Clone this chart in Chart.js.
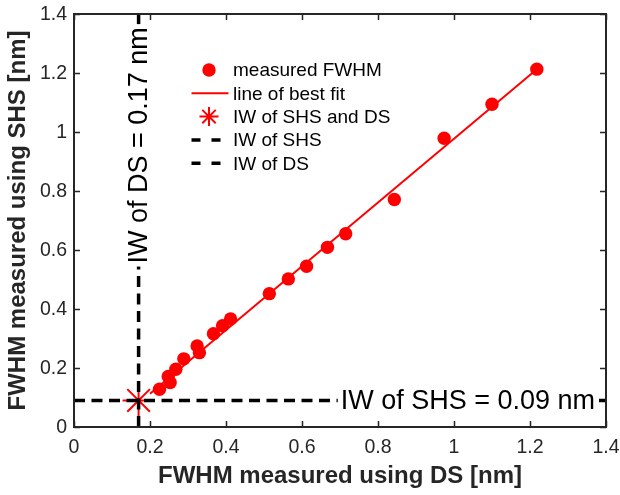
<!DOCTYPE html>
<html>
<head>
<meta charset="utf-8">
<script src="https://cdn.jsdelivr.net/npm/chart.js@4.4.1/dist/chart.umd.min.js"></script>
<style>
  html, body { margin: 0; padding: 0; background: #fff; }
</style>
</head>
<body>
<canvas id="graficoFWHM" width="620" height="495"></canvas>
<script>
// measured FWHM, DS (x) vs SHS (y), in nm
const fwhmDS = [0.225, 0.248, 0.253, 0.268, 0.289, 0.324, 0.330, 0.367, 0.391, 0.412, 0.514, 0.564, 0.612, 0.667, 0.715, 0.843, 0.974, 1.100, 1.218];
const fwhmSHS = [0.128, 0.171, 0.151, 0.196, 0.231, 0.275, 0.252, 0.316, 0.343, 0.366, 0.452, 0.502, 0.545, 0.609, 0.655, 0.771, 0.979, 1.094, 1.213];
// line of best fit end points
const fitDS = [0.2, 1.218];
const fitSHS = [0.113, 1.213];
// instrument widths
const iwDS = 0.17;
const iwSHS = 0.09;
const axisRange = [0, 1.4];
const axisTicks = [0, 0.2, 0.4, 0.6, 0.8, 1, 1.2, 1.4];

const FONT = "'Liberation Sans', Arial, Helvetica, sans-serif";
const AXIS_COLOR = "#262626";
const RED = "#ff0000";

function textoConFondo(ctx, texto, x, y, rotado) {
  ctx.save();
  ctx.font = `27px ${FONT}`;
  ctx.textAlign = "left";
  ctx.textBaseline = "middle";
  ctx.translate(x, y);
  if (rotado) ctx.rotate(-Math.PI / 2);
  const ancho = ctx.measureText(texto).width;
  ctx.fillStyle = "#fff";
  ctx.fillRect(-3, -15, ancho + 6, 30);
  ctx.fillStyle = "#000";
  ctx.fillText(texto, 0, 1);
  ctx.restore();
}

const marcoMatlab = {
  id: "marcoMatlab",
  afterDatasetsDraw(chart) {
    const { ctx, chartArea: a, scales: { x, y } } = chart;

    // annotations with white background
    textoConFondo(ctx, `IW of DS = ${iwDS} nm`, x.getPixelForValue(iwDS), y.getPixelForValue(0.554), true);
    textoConFondo(ctx, `IW of SHS = ${iwSHS} nm`, x.getPixelForValue(0.702), y.getPixelForValue(iwSHS), false);

    // box, inner ticks and tick labels
    ctx.save();
    ctx.strokeStyle = AXIS_COLOR;
    ctx.lineWidth = 1.5;
    ctx.beginPath();
    axisTicks.forEach((v) => {
      const px = Math.round(x.getPixelForValue(v)) + 0.5;
      ctx.moveTo(px, a.bottom); ctx.lineTo(px, a.bottom - 6);
      ctx.moveTo(px, a.top); ctx.lineTo(px, a.top + 6);
      const py = Math.round(y.getPixelForValue(v)) + 0.5;
      ctx.moveTo(a.left, py); ctx.lineTo(a.left + 6, py);
      ctx.moveTo(a.right, py); ctx.lineTo(a.right - 6, py);
    });
    ctx.stroke();
    ctx.lineWidth = 2;
    ctx.strokeRect(a.left, a.top, a.right - a.left, a.bottom - a.top);

    ctx.fillStyle = AXIS_COLOR;
    ctx.font = `19.5px ${FONT}`;
    ctx.textBaseline = "middle";
    ctx.textAlign = "center";
    axisTicks.forEach((v) => {
      ctx.fillText(String(v), x.getPixelForValue(v), a.bottom + 21);
    });
    ctx.textAlign = "right";
    axisTicks.forEach((v) => {
      ctx.fillText(String(v), a.left - 7, y.getPixelForValue(v) + 1);
    });
    ctx.restore();

    // legend inside the axes
    const sx = 209, lx0 = 191.5, lx1 = 228.5, tx = 233;
    const filas = [70, 93.3, 116.6, 140, 163.3];
    ctx.save();
    ctx.font = `19px ${FONT}`;
    ctx.textBaseline = "middle";
    chart.data.datasets.forEach((ds, i) => {
      const fy = filas[i];
      ctx.fillStyle = "#000";
      ctx.fillText(ds.label, tx, fy + 1);
      ctx.strokeStyle = ds.borderColor;
      ctx.fillStyle = ds.backgroundColor;
      if (ds.legendKind === "dot") {
        ctx.beginPath();
        ctx.arc(sx, fy, ds.pointRadius, 0, Math.PI * 2);
        ctx.fill();
      } else if (ds.legendKind === "line") {
        ctx.lineWidth = ds.borderWidth;
        ctx.setLineDash(ds.borderDash ? [9, 11] : []);
        ctx.beginPath();
        ctx.moveTo(lx0, fy); ctx.lineTo(lx1, fy);
        ctx.stroke();
        ctx.setLineDash([]);
      } else if (ds.legendKind === "star") {
        const r = 9.5;
        ctx.lineWidth = ds.borderWidth;
        ctx.beginPath();
        for (let k = 0; k < 4; k++) {
          const ang = k * Math.PI / 4;
          ctx.moveTo(sx - r * Math.cos(ang), fy - r * Math.sin(ang));
          ctx.lineTo(sx + r * Math.cos(ang), fy + r * Math.sin(ang));
        }
        ctx.stroke();
      }
    });
    ctx.restore();
  }
};

const escala = (titulo, tituloPad) => ({
  type: "linear",
  min: axisRange[0],
  max: axisRange[1],
  afterBuildTicks: (s) => { s.ticks = axisTicks.map((v) => ({ value: v })); },
  grid: { display: false },
  border: { display: false },
  ticks: { display: false },
  title: {
    display: true,
    text: titulo,
    color: AXIS_COLOR,
    font: { family: FONT, size: 24, weight: "bold" },
    padding: tituloPad
  }
});

const ejeX = escala("FWHM measured using DS [nm]", { top: 0, bottom: 4.6 });
ejeX.afterFit = (s) => { s.height = 68; };
const ejeY = escala("FWHM measured using SHS [nm]", { top: 4, bottom: 0 });
ejeY.afterFit = (s) => { s.width = 74; };

new Chart(document.getElementById("graficoFWHM").getContext("2d"), {
  type: "scatter",
  data: {
    datasets: [
      {
        label: "measured FWHM",
        legendKind: "dot",
        data: fwhmDS.map((v, i) => ({ x: v, y: fwhmSHS[i] })),
        backgroundColor: RED,
        borderColor: RED,
        borderWidth: 0,
        pointRadius: 6.7,
        order: 3
      },
      {
        label: "line of best fit",
        legendKind: "line",
        data: fitDS.map((v, i) => ({ x: v, y: fitSHS[i] })),
        showLine: true,
        borderColor: RED,
        backgroundColor: RED,
        borderWidth: 2,
        pointRadius: 0,
        order: 4
      },
      {
        label: "IW of SHS and DS",
        legendKind: "star",
        data: [{ x: iwDS, y: iwSHS }],
        pointStyle: "star",
        pointRadius: 16,
        borderColor: RED,
        backgroundColor: RED,
        borderWidth: 2,
        order: 5
      },
      {
        label: "IW of SHS",
        legendKind: "line",
        data: axisRange.map((v) => ({ x: v, y: iwSHS })),
        showLine: true,
        borderColor: "#000",
        backgroundColor: "#000",
        borderWidth: 3.5,
        borderDash: [11, 6.5],
        pointRadius: 0,
        order: 1
      },
      {
        label: "IW of DS",
        legendKind: "line",
        data: axisRange.map((v) => ({ x: iwDS, y: v })),
        showLine: true,
        borderColor: "#000",
        backgroundColor: "#000",
        borderWidth: 3.5,
        borderDash: [11, 6.5],
        pointRadius: 0,
        order: 2
      }
    ]
  },
  options: {
    responsive: false,
    animation: false,
    devicePixelRatio: 1,
    events: [],
    layout: { autoPadding: false, padding: { top: 14, right: 14, left: 0, bottom: 0 } },
    plugins: {
      legend: { display: false },
      tooltip: { enabled: false }
    },
    scales: { x: ejeX, y: ejeY }
  },
  plugins: [marcoMatlab]
});
</script>
</body>
</html>
